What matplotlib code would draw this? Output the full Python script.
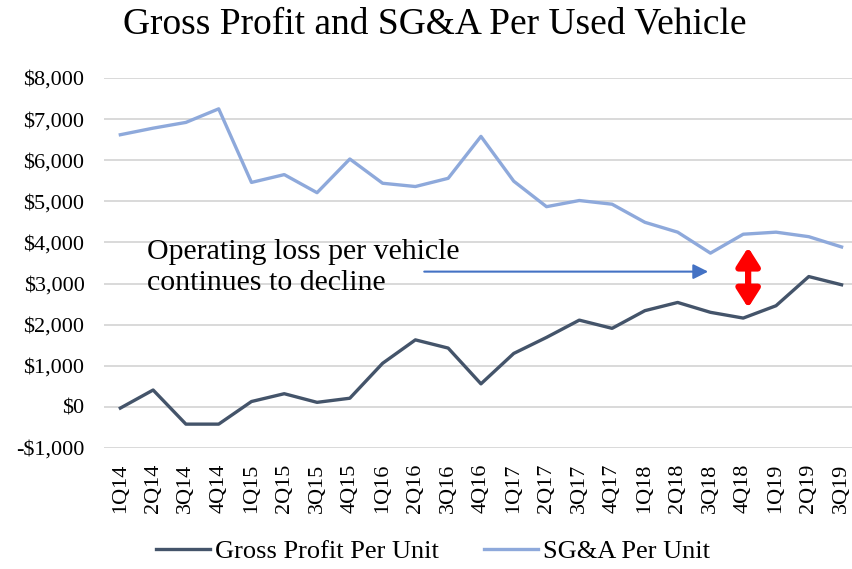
import matplotlib.pyplot as plt
from matplotlib.ticker import FuncFormatter

plt.rcParams['font.family'] = ['Liberation Serif', 'DejaVu Serif']

# quarterly figures, 1Q14 - 3Q19
quarters = ["1Q14", "2Q14", "3Q14", "4Q14", "1Q15", "2Q15", "3Q15", "4Q15",
            "1Q16", "2Q16", "3Q16", "4Q16", "1Q17", "2Q17", "3Q17", "4Q17",
            "1Q18", "2Q18", "3Q18", "4Q18", "1Q19", "2Q19", "3Q19"]
gross_profit = [-30, 410, -420, -420, 130, 320, 110, 210,
                1060, 1630, 1430, 560, 1300, 1690, 2110, 1910,
                2340, 2540, 2300, 2160, 2460, 3170, 2970]
sga = [6620, 6780, 6920, 7250, 5460, 5650, 5210, 6030,
       5440, 5360, 5560, 6580, 5490, 4870, 5020, 4930,
       4490, 4250, 3740, 4200, 4250, 4140, 3890]

fig = plt.figure(figsize=(8.52, 5.69), dpi=100)
ax = fig.add_axes([0.122, 0.2127, 0.885, 0.6502])

x = range(len(quarters))
ax.plot(x, gross_profit, color="#44546A", lw=2.4, label="Gross Profit Per Unit",
        solid_joinstyle="round")
ax.plot(x, sga, color="#8EA9DB", lw=2.4, label="SG&A Per Unit",
        solid_joinstyle="round")

ax.set_xlim(-0.5, len(quarters) - 0.5)
ax.set_ylim(-1000, 8000)
ax.set_yticks(range(-1000, 8001, 1000))
ax.yaxis.set_major_formatter(FuncFormatter(
    lambda v, p: "-${:,.0f}".format(-v) if v < 0 else "${:,.0f}".format(v)))
ax.set_xticks(list(x))
ax.set_xticklabels(quarters, rotation=90)
ax.tick_params(axis="both", length=0, labelsize=16)
ax.tick_params(axis="y", pad=14)
ax.tick_params(axis="x", pad=11)

ax.grid(axis="y", color="#D9D9D9", lw=1.4)
ax.set_axisbelow(True)
for s in ax.spines.values():
    s.set_visible(False)

# annotation
ax.text(0.82, 4090, "Operating loss per vehicle\ncontinues to decline",
        fontsize=21.5, va="top", ha="left", linespacing=1.25)
ax.annotate("", xy=(17.93, 3290), xytext=(9.27, 3290),
            arrowprops=dict(arrowstyle="-|>,head_length=0.9,head_width=0.45",
                            color="#4472C4", lw=1.5, shrinkA=0, shrinkB=0))
ax.annotate("", xy=(19.15, 3880), xytext=(19.15, 2410),
            arrowprops=dict(arrowstyle="<|-|>,head_length=0.55,head_width=0.35",
                            color="#FF0000", lw=4.5, shrinkA=0, shrinkB=0,
                            mutation_scale=20))

fig.text(435 / 852, 1 - 24 / 569, "Gross Profit and SG&A Per Used Vehicle",
         fontsize=27, ha="center", va="center")

fig.legend(loc="center", bbox_to_anchor=(433 / 852, 1 - 551 / 569), ncol=2,
           frameon=False, fontsize=19, handlelength=2.05, columnspacing=1.7,
           handletextpad=0.2)

fig.savefig("out.png", dpi=100)
